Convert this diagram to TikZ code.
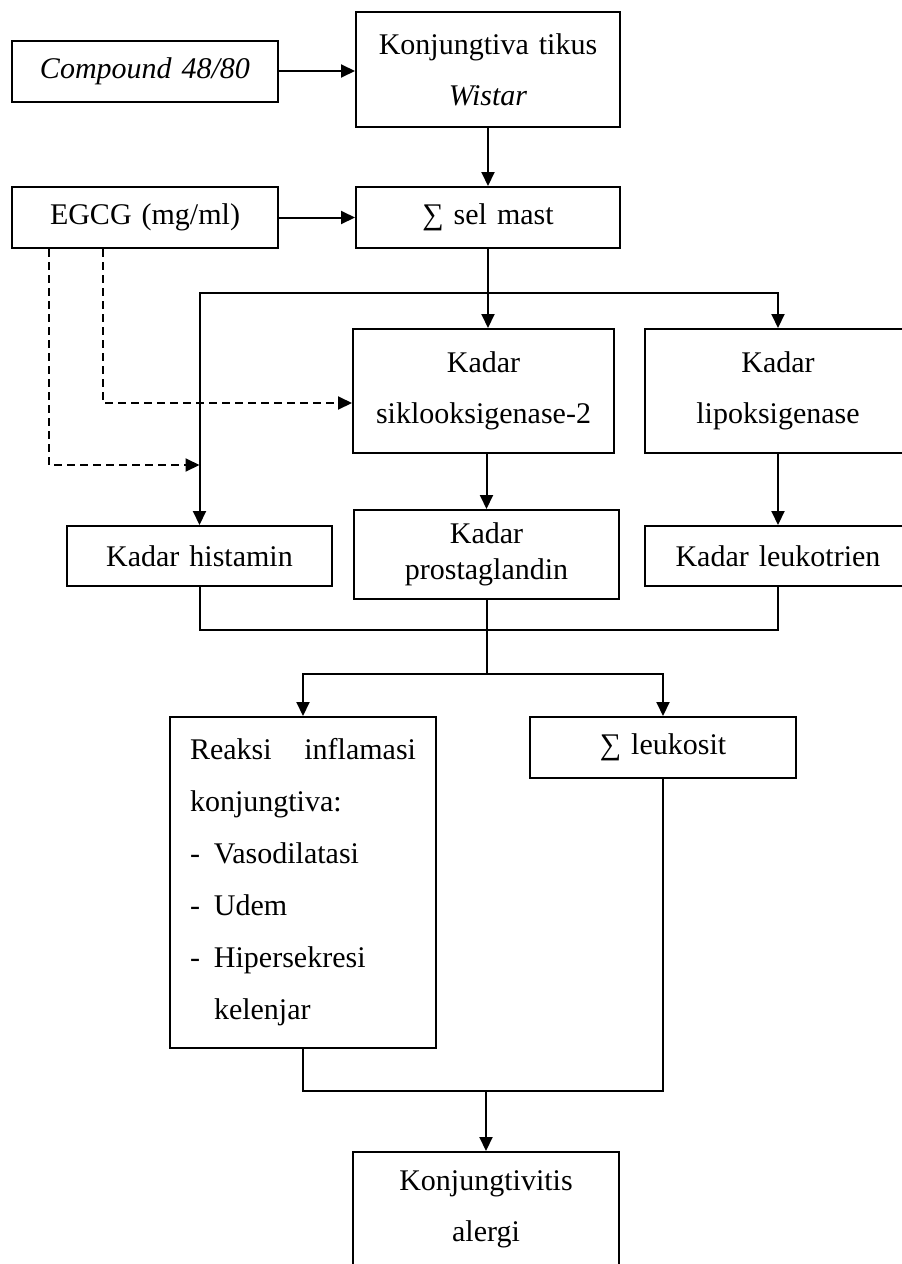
\documentclass[tikz,border=0pt]{standalone}
\usepackage{fontspec}
\setmainfont{Liberation Serif}
\usetikzlibrary{arrows.meta,calc}

\begin{document}
\begin{tikzpicture}[x=0.5pt,y=-0.5pt,line width=1pt,
      font=\fontsize{15pt}{25.5pt}\selectfont,
      >={Triangle[length=7pt,width=6.5pt]},
      blk/.style={draw,align=center,inner sep=0pt,text width=133pt,minimum height=30.5pt},
      dsh/.style={dash pattern=on 4pt off 2.5pt}]
    \useasboundingbox (0,0) rectangle (901,1264);
    % --- inputs ---
    \node[blk] (comp) at (145,71) {\textit{Compound 48/80}};
    \node[blk,text width=132pt,minimum height=57.5pt] (konj) at (488,69.5) {Konjungtiva tikus\\ \textit{Wistar}};
    \node[blk] (egcg) at (145,217.5) {EGCG (mg/ml)};
    \node[blk,text width=132pt] (selmast) at (488,217.5) {∑ sel mast};
    \draw[->] (comp) -- (comp -| konj.west);
    \draw[->] (konj) -- (selmast);
    \draw[->] (egcg) -- (egcg -| selmast.west);
    % --- mediators ---
    \node[blk,text width=130.5pt,minimum height=62pt] (siklo) at (483.5,391) {Kadar\\ siklooksigenase-2};
    \node[blk,minimum height=62pt] (lipo) at (778,391) {Kadar\\ lipoksigenase};
    \node[blk,text width=132.5pt,minimum height=30pt] (hist) at (199.5,556) {Kadar histamin};
    \node[blk,text width=132.5pt,minimum height=44.5pt,font=\fontsize{15pt}{18pt}\selectfont] (prosta) at (486.5,554.5) {Kadar\\ prostaglandin};
    \node[blk,minimum height=30pt] (leuko) at (778,556) {Kadar leukotrien};
    \coordinate (br) at (488,293);
    \draw[->] (selmast.south) -- (selmast.south |- siklo.north);
    \draw[->] (br) -| (hist.north);
    \draw[->] (br) -| (lipo.north);
    \draw[->] (prosta.north |- siklo.south) -- (prosta.north);
    \draw[->] (lipo) -- (leuko);
    % EGCG inhibition
    \draw[->,dsh] ($(egcg.south west)+(92,0)$) |- ($(siklo.west)+(0,12)$);
    \draw[->,dsh] ($(egcg.south west)+(38,0)$) |- ($(hist.north)+(0,-60)$);
    % --- effects ---
    \node[blk,align=left,inner xsep=10pt,text width=113pt,minimum height=165.5pt,
      font=\fontsize{15pt}{26pt}\selectfont] (reaksi) at (303,882.5)
      {Reaksi\hfill inflamasi\\ konjungtiva:\\ \makebox[12pt][l]{-}Vasodilatasi\\
       \makebox[12pt][l]{-}Udem\\ \makebox[12pt][l]{-}Hipersekresi\\ \hspace*{12pt}kelenjar};
    \node[blk] (leukosit) at (663,747.5) {∑ leukosit};
    \coordinate (mg) at ($(prosta.south)+(0,30)$);
    \coordinate (sp) at ($(prosta.south)+(0,74)$);
    \draw (hist.south) |- (mg) -| (leuko.south);
    \draw (prosta.south) -- (sp);
    \draw[->] (sp) -| (reaksi.north);
    \draw[->] (sp) -| (leukosit.north);
    % --- outcome ---
    \node[blk,minimum height=57.5pt] (alergi) at (486,1209.5) {Konjungtivitis\\ alergi};
    \coordinate (mg2) at (486,1091);
    \draw (reaksi.south) |- (mg2) -| (leukosit.south);
    \draw[->] (mg2) -- (alergi.north);
  \end{tikzpicture}
\end{document}
